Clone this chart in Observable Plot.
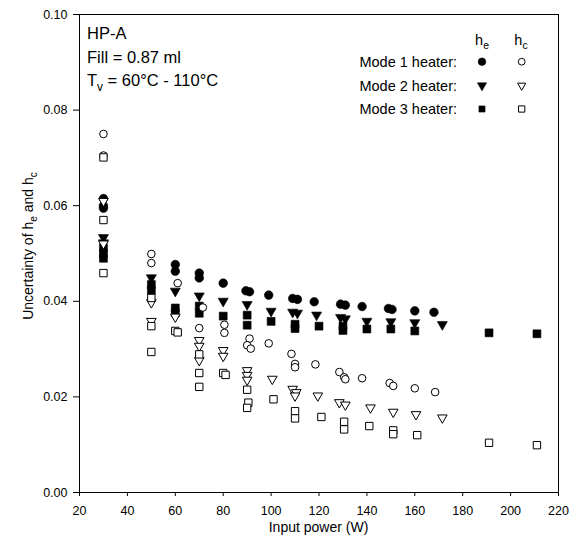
<!DOCTYPE html>
<html>
<head>
<meta charset="utf-8">
<script src="https://cdn.jsdelivr.net/npm/d3@7"></script>
<script src="https://cdn.jsdelivr.net/npm/@observablehq/plot@0.6"></script>
<style>
  body { margin: 0; background: #fff; }
</style>
</head>
<body>
<div id="chart"></div>
<script>
const FONT = "'Liberation Sans', Arial, Helvetica, sans-serif";

// Axis ticks
const xTicks = [20, 40, 60, 80, 100, 120, 140, 160, 180, 200, 220];
const yTicks = [0, 0.02, 0.04, 0.06, 0.08, 0.10];

// Mode 1 heater, h_e (filled circles)
const m1heW = [30, 30, 30, 60, 60, 70, 70, 80, 89.5, 91, 99, 109, 111, 118, 129, 131, 138, 149, 150.5, 160, 168];
const m1heU = [0.0615, 0.0600, 0.0595, 0.0477, 0.0463, 0.0459, 0.0449, 0.0438, 0.0422, 0.0420, 0.0413, 0.0406, 0.0404, 0.0399, 0.0394, 0.0392, 0.0389, 0.0385, 0.0383, 0.0380, 0.0377];

// Mode 1 heater, h_c (open circles)
const m1hcW = [30, 30, 50, 50, 61, 71.5, 70, 80.5, 80.5, 91, 90, 91.5, 99, 108.5, 110, 110, 118.5, 128.5, 130.5, 131, 138, 149.5, 151, 160, 168.5];
const m1hcU = [0.0750, 0.0705, 0.0499, 0.0480, 0.0438, 0.0387, 0.0344, 0.0351, 0.0334, 0.0322, 0.0308, 0.0301, 0.0312, 0.0290, 0.0269, 0.0262, 0.0268, 0.0252, 0.0241, 0.0237, 0.0239, 0.0229, 0.0223, 0.0218, 0.0210];

// Mode 2 heater, h_e (filled down-triangles)
const m2heW = [30, 30, 50, 60, 70, 80, 90, 100, 109, 111, 119, 129, 131, 140, 150, 160, 171.5];
const m2heU = [0.0533, 0.0522, 0.0449, 0.0421, 0.0411, 0.0400, 0.0393, 0.0379, 0.0377, 0.0375, 0.0371, 0.0366, 0.0363, 0.0358, 0.0357, 0.0355, 0.0351];

// Mode 2 heater, h_c (open down-triangles)
const m2hcW = [30, 30, 50, 50, 60, 70, 70, 70, 80, 80, 90, 90, 90, 100.5, 109, 110.5, 110, 119.5, 128.5, 131, 141.5, 151, 160.5, 171.5];
const m2hcU = [0.0609, 0.0520, 0.0397, 0.0358, 0.0367, 0.0318, 0.0306, 0.0276, 0.0297, 0.0285, 0.0255, 0.0245, 0.0235, 0.0237, 0.0216, 0.0209, 0.0202, 0.0202, 0.0188, 0.0183, 0.0177, 0.0168, 0.0163, 0.0156];

// Mode 3 heater, h_e (filled squares)
const m3heW = [30, 30, 30, 50, 50, 60, 60, 70, 70, 80, 90, 90, 100, 110, 110, 120, 130, 130, 140, 150, 160, 191, 211];
const m3heU = [0.0512, 0.0500, 0.0490, 0.0435, 0.0423, 0.0386, 0.0376, 0.0390, 0.0375, 0.0369, 0.0371, 0.0350, 0.0358, 0.0352, 0.0343, 0.0348, 0.0348, 0.0339, 0.0342, 0.0342, 0.0338, 0.0334, 0.0332];

// Mode 3 heater, h_c (open squares)
const m3hcW = [30, 30, 30, 50, 50, 50, 60, 61, 70, 70, 70, 80, 81, 90, 90.5, 90, 101, 110, 110, 121, 130.5, 130.5, 141, 151, 151, 161, 191, 211];
const m3hcU = [0.0701, 0.0570, 0.0459, 0.0407, 0.0348, 0.0294, 0.0338, 0.0335, 0.0289, 0.0250, 0.0221, 0.0250, 0.0246, 0.0215, 0.0188, 0.0177, 0.0195, 0.0170, 0.0155, 0.0158, 0.0148, 0.0132, 0.0139, 0.0130, 0.0122, 0.0120, 0.0104, 0.0099];

// Legend labels
const legendRows = ["Mode 1 heater:", "Mode 2 heater:", "Mode 3 heater:"];

// custom symbols
const triDown = {
  draw(ctx, size) {
    const r = Math.sqrt(size / Math.PI);
    const a = r * 1.2;
    ctx.moveTo(-a, -a * 0.62);
    ctx.lineTo(a, -a * 0.62);
    ctx.lineTo(0, a * 1.12);
    ctx.closePath();
  }
};
const sq = {
  draw(ctx, size) {
    const r = Math.sqrt(size / Math.PI);
    const h = r * 0.92;
    ctx.rect(-h, -h, 2 * h, 2 * h);
  }
};
const circ = {
  draw(ctx, size) {
    const r = Math.sqrt(size / Math.PI);
    ctx.moveTo(r, 0);
    ctx.arc(0, 0, r, 0, 2 * Math.PI);
  }
};

const rowsOf = (W, U) => W.map((w, i) => ({ W: w, U: U[i] }));

const filledDot = (data, symbol, r) =>
  Plot.dot(data, { x: "W", y: "U", symbol, r, fill: "black", stroke: "black", strokeWidth: 0.6 });
const openDot = (data, symbol, r) =>
  Plot.dot(data, { x: "W", y: "U", symbol, r, fill: "white", stroke: "black", strokeWidth: 1 });

const plot = Plot.plot({
  width: 569,
  height: 544,
  marginLeft: 79,
  marginRight: 11,
  marginTop: 14,
  marginBottom: 52,
  style: { fontFamily: FONT, fontSize: "12.5px", color: "black", background: "white" },
  x: { domain: [20, 220], label: null },
  y: { domain: [0, 0.10], label: null },
  marks: [
    Plot.axisX({ ticks: xTicks, tickSize: 4, tickPadding: 10, label: null, tickFormat: d => String(d) }),
    Plot.axisY({ ticks: yTicks, tickSize: 6, tickPadding: 6, label: null, tickFormat: d3.format(".2f") }),
    filledDot(rowsOf(m1heW, m1heU), circ, 4.3),
    filledDot(rowsOf(m2heW, m2heU), triDown, 4.2),
    filledDot(rowsOf(m3heW, m3heU), sq, 4.3),
    openDot(rowsOf(m1hcW, m1hcU), circ, 3.8),
    openDot(rowsOf(m2hcW, m2hcU), triDown, 4.0),
    openDot(rowsOf(m3hcW, m3hcU), sq, 4.0),
    Plot.frame({ stroke: "black", strokeWidth: 1 })
  ]
});

document.getElementById("chart").appendChild(plot);

const svg = d3.select(plot);

// helper to write text with subscripts: parts = [[text, isSub], ...]
function richText(g, x, y, parts, fs, anchor = "start", transform = null) {
  const t = g.append("text")
    .attr("font-family", FONT)
    .attr("font-size", fs)
    .attr("fill", "black")
    .attr("text-anchor", anchor);
  if (transform) t.attr("transform", transform); else t.attr("x", x).attr("y", y);
  let shifted = false;
  for (const [s, sub] of parts) {
    const sp = t.append("tspan").text(s);
    if (sub && !shifted) { sp.attr("dy", 0.28 * fs).attr("font-size", 0.72 * fs); shifted = true; }
    else if (sub) { sp.attr("font-size", 0.72 * fs); }
    else if (!sub && shifted) { sp.attr("dy", -0.28 * fs); shifted = false; }
  }
  return t;
}

const g = svg.append("g");

// axis titles
g.append("text")
  .attr("x", (79 + 558) / 2).attr("y", 532)
  .attr("text-anchor", "middle")
  .attr("font-family", FONT).attr("font-size", 14).attr("fill", "black")
  .text("Input power (W)");

richText(g, 0, 0, [["Uncertainty of h", false], ["e", true], [" and h", false], ["c", true]], 14, "middle",
  "translate(33,246) rotate(-90)");

// annotations
richText(g, 87, 39, [["HP-A", false]], 16.5);
richText(g, 87, 63, [["Fill = 0.87 ml", false]], 16.5);
richText(g, 87, 86, [["T", false], ["v", true], [" = 60°C - 110°C", false]], 16.5);

// legend
richText(g, 482, 45, [["h", false], ["e", true]], 14.5, "middle");
richText(g, 521, 45, [["h", false], ["c", true]], 14.5, "middle");
const legSyms = [circ, triDown, sq];
const legY = [61.7, 85.7, 109];
legendRows.forEach((lab, i) => {
  richText(g, 457, legY[i] + 5, [[lab, false]], 14.5, "end");
  const sz = Math.PI * 3.8 * 3.8;
  g.append("path")
    .attr("d", d3.symbol().type(legSyms[i]).size(i === 2 ? Math.PI * 3.3 * 3.3 : sz)())
    .attr("transform", `translate(482,${legY[i]})`)
    .attr("fill", "black").attr("stroke", "black").attr("stroke-width", 0.6);
  g.append("path")
    .attr("d", d3.symbol().type(legSyms[i]).size(Math.PI * 3.4 * 3.4)())
    .attr("transform", `translate(521.7,${legY[i]})`)
    .attr("fill", "white").attr("stroke", "black").attr("stroke-width", 1);
});
</script>
</body>
</html>
